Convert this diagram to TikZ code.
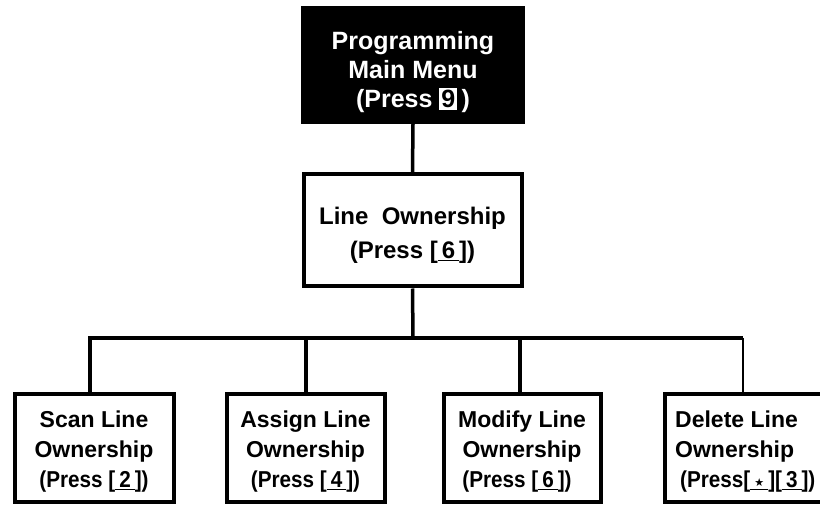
\documentclass[tikz,border=0pt]{standalone}
\usepackage{fontspec}
\setmainfont{Liberation Sans}
\newfontfamily\narrowf[FakeStretch=0.9]{Liberation Sans}
\newfontfamily\symf{DejaVu Sans}
\newcommand\ukey[1]{[\underline{\hspace{4pt}#1\hspace{4pt}}]}
\begin{document}
\begin{tikzpicture}[x=1pt,y=-1pt,
  box/.style={draw=black,line width=4pt,rectangle,inner sep=0pt},
  txt/.style={inner sep=0pt,align=center,font=\bfseries},
  conn/.style={line width=3.5pt},
  thinconn/.style={line width=2.2pt}]
\useasboundingbox (0,0) rectangle (820,505);
\clip (0,0) rectangle (820,505);
% top
\node[box,fill=black,minimum width=220pt,minimum height=114pt] (top) at (413,65) {};
\node[txt,text=white,font=\bfseries\fontsize{25}{29}\selectfont] (toptx) at ([yshift=-7pt]top.center)
  {Programming\\Main Menu\\(Press {\setlength{\fboxsep}{2pt}\colorbox{white}{\color{black}9}}\,)};
% middle
\node[box,minimum width=218pt,minimum height=112pt] (mid) at (412.5,230.5) {};
\node[txt,font=\bfseries\fontsize{24}{34}\selectfont] (midtx) at ([yshift=-5pt]mid.center)
  {Line~ Ownership\\(Press \ukey{6})};
% bottom
\tikzset{bot/.style={box,minimum height=108pt},
  bottx/.style={txt,font=\bfseries\fontsize{23}{30}\selectfont}}
\node[bot,minimum width=159pt] (b1) at (94,447.5) {};
\node[bottx] (b1tx) at ([yshift=-4pt]b1.center)
  {Scan Line\\Ownership\\{\narrowf\bfseries (Press \ukey{2})}};
\node[bot,minimum width=158pt] (b2) at (305.5,447.5) {};
\node[bottx] (b2tx) at ([yshift=-4pt]b2.center)
  {Assign Line\\Ownership\\{\narrowf\bfseries (Press \ukey{4})}};
\node[bot,minimum width=157pt] (b3) at (522,447.5) {};
\node[bottx] (b3tx) at ([yshift=-4pt]b3.center)
  {Modify Line\\Ownership\\{\narrowf\bfseries (Press \ukey{6})}\hspace*{10pt}};
\node[bot,minimum width=157pt] (b4) at (743.5,447.5) {};
\node[bottx,align=left,anchor=west] (b4tx) at ([xshift=12pt,yshift=-4pt]b4.west)
  {Delete Line\\Ownership\\\hspace*{5pt}{\narrowf\bfseries (Press\ukey{\symf\fontsize{11}{11}\selectfont\raisebox{1pt}{★}}\ukey{3})}};
% connectors
\coordinate (bus) at (413,338);
\coordinate (j1) at (90,338);
\coordinate (j2) at (306,338);
\coordinate (j3) at (520,338);
\coordinate (j4) at (743,338);
\draw[conn] (top.south) -- (mid.north);
\draw[conn] (mid.south) -- (bus);
\draw[conn] (j1 |- b1.north) -- (j1) -- (j4);
\draw[conn] (j2) -- (j2 |- b2.north);
\draw[conn] (j3) -- (j3 |- b3.north);
\draw[thinconn] (j4) -- (j4 |- b4.north);
\end{tikzpicture}
\end{document}
